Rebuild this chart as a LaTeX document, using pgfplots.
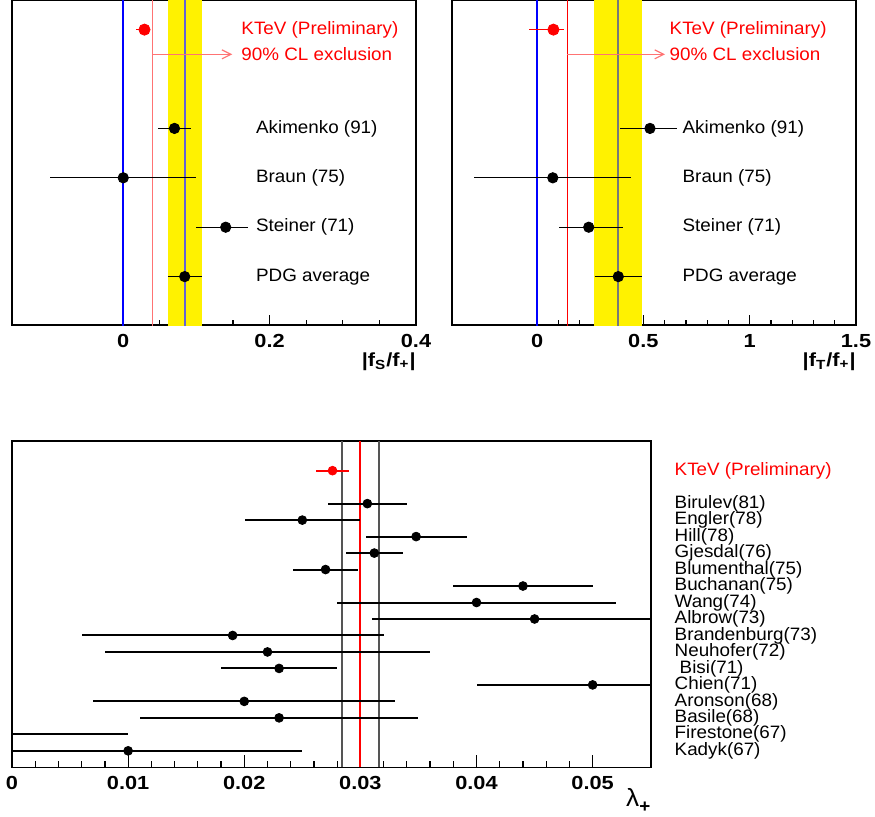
\documentclass[border=0pt]{standalone}
\usepackage{fontspec}
\setmainfont{Liberation Sans}[FakeStretch=1.05]
\newfontfamily\tickfont{Liberation Sans}[FakeStretch=1.15]
\usepackage{pgfplots}
\pgfplotsset{compat=1.18}
\usetikzlibrary{arrows.meta}

\definecolor{pdgblue}{RGB}{100,100,210}
\definecolor{lightred}{RGB}{255,115,115}
\definecolor{midred}{RGB}{255,0,0}
\definecolor{kred}{RGB}{255,0,0}
\definecolor{pdggrey}{RGB}{120,120,120}
\definecolor{dkgrey}{RGB}{85,85,85}

\pgfplotsset{
  panel/.style={
    scale only axis,
    clip mode=individual,
    axis line style={line width=0.8bp, black},
    tick align=inside,
    xtick pos=left,
    major tick length=5bp,
    minor tick length=2.5bp,
    tick style={black, line width=0.6bp},
    scaled ticks=false,
    xticklabel style={font=\tickfont\bfseries\fontsize{9.5}{10}\selectfont, yshift=-1bp},
  },
  meas/.style={
    only marks, mark=*, mark size=2.5bp, black,
    mark options={fill=black, draw=black},
    error bars/x dir=both, error bars/x explicit, error bars/error mark=none,
    error bars/error bar style={line width=0.5bp, black},
  },
}
\tikzset{lab/.style={font=\fontsize{9}{10}\selectfont, anchor=west, inner sep=0pt}}

\begin{document}
\begin{tikzpicture}

% ---------------- top left: |fS/f+|
\begin{axis}[panel,
  at={(6bp,0bp)}, anchor=north west,
  width=202bp, height=162.5bp,
  xmin=-0.152, xmax=0.4, ymin=0.02, ymax=6.6,
  xtick={0,0.2,0.4}, xticklabels={0,0.2,0.4},
  minor x tick num=3, ytick=\empty,
]
\addplot[fill=yellow, draw=none] coordinates {(0.061,0) (0.107,0) (0.107,7) (0.061,7)} -- cycle;
\addplot[blue, line width=1bp] coordinates {(0,0) (0,7)};
\addplot[lightred, line width=0.6bp] coordinates {(0.04,0) (0.04,7)};
\addplot[pdgblue, line width=0.8bp] coordinates {(0.084,0) (0.084,7)};
\addplot[lightred, line width=0.6bp, -{Straight Barb[length=4.5bp,width=4.5bp]}] coordinates {(0.04,5.5) (0.149,5.5)};
\addplot[meas, mark size=2.6bp] table[x=x, y=y, x error minus=em, x error plus=ep] {
x      y  em     ep
0.070  4  0.023  0.023
0.000  3  0.100  0.100
0.140  2  0.040  0.030
0.084  1  0.023  0.023
};
\addplot[meas, kred, mark options={fill=kred, draw=kred}, mark size=2.8bp,
  error bars/error bar style={kred, line width=0.5bp}]
  table[x=x, y=y, x error minus=em, x error plus=ep] {
x      y  em     ep
0.029  6  0.012  0.008
};
\node[lab, text=kred] at (axis cs:0.161,6) {KTeV (Preliminary)};
\node[lab, text=kred] at (axis cs:0.161,5.5) {90\% CL exclusion};
\node[lab] at (axis cs:0.181,4) {Akimenko (91)};
\node[lab] at (axis cs:0.181,3) {Braun (75)};
\node[lab] at (axis cs:0.181,2) {Steiner (71)};
\node[lab] at (axis cs:0.181,1) {PDG average};
\node[anchor=north east, inner sep=0pt, font=\tickfont\bfseries\fontsize{9.5}{10}\selectfont]
  at (rel axis cs:1,0) [yshift=-13.5bp] {|f\textsubscript{S}/f\textsubscript{+}|};
\end{axis}

% ---------------- top right: |fT/f+|
\begin{axis}[panel,
  at={(226bp,0bp)}, anchor=north west,
  width=202bp, height=162.5bp,
  xmin=-0.4, xmax=1.5, ymin=0.02, ymax=6.6,
  xtick={0,0.5,1,1.5}, xticklabels={0,0.5,1,1.5},
  minor x tick num=4, ytick=\empty,
]
\addplot[fill=yellow, draw=none] coordinates {(0.268,0) (0.492,0) (0.492,7) (0.268,7)} -- cycle;
\addplot[blue, line width=1bp] coordinates {(0,0) (0,7)};
\addplot[midred, line width=0.8bp] coordinates {(0.143,0) (0.143,7)};
\addplot[pdggrey, line width=1bp] coordinates {(0.382,0) (0.382,7)};
\addplot[lightred, line width=0.6bp, -{Straight Barb[length=4.5bp,width=4.5bp]}] coordinates {(0.143,5.5) (0.602,5.5)};
\addplot[meas, mark size=2.6bp] table[x=x, y=y, x error minus=em, x error plus=ep] {
x      y  em     ep
0.531  4  0.139  0.126
0.074  3  0.372  0.366
0.243  2  0.140  0.160
0.382  1  0.109  0.110
};
\addplot[meas, kred, mark options={fill=kred, draw=kred}, mark size=2.8bp,
  error bars/error bar style={kred, line width=0.5bp}]
  table[x=x, y=y, x error minus=em, x error plus=ep] {
x      y  em     ep
0.077  6  0.117  0.051
};
\node[lab, text=kred] at (axis cs:0.622,6) {KTeV (Preliminary)};
\node[lab, text=kred] at (axis cs:0.622,5.5) {90\% CL exclusion};
\node[lab] at (axis cs:0.683,4) {Akimenko (91)};
\node[lab] at (axis cs:0.683,3) {Braun (75)};
\node[lab] at (axis cs:0.683,2) {Steiner (71)};
\node[lab] at (axis cs:0.683,1) {PDG average};
\node[anchor=north east, inner sep=0pt, font=\tickfont\bfseries\fontsize{9.5}{10}\selectfont]
  at (rel axis cs:1,0) [yshift=-13.5bp] {|f\textsubscript{T}/f\textsubscript{+}|};
\end{axis}

% ---------------- bottom: lambda+
\begin{axis}[panel,
  at={(6bp,-220.5bp)}, anchor=north west,
  width=319.35bp, height=163.15bp,
  xmin=0, xmax=0.055, ymin=0, ymax=19.8,
  major tick length=6bp, minor tick length=3bp,
  xtick={0,0.01,0.02,0.03,0.04,0.05},
  xticklabels={0,0.01,0.02,0.03,0.04,0.05},
  minor x tick num=4,
  ytick={1,2,3,4,5,6,7,8,9,10,11,12,13,14,15,16,18},
  yticklabels={Kadyk(67),Firestone(67),Basile(68),Aronson(68),Chien(71),\hspace{2.5bp}Bisi(71),Neuhofer(72),Brandenburg(73),Albrow(73),Wang(74),Buchanan(75),Blumenthal(75),Gjesdal(76),Hill(78),Engler(78),Birulev(81),\textcolor{kred}{KTeV (Preliminary)}},
  yticklabel pos=right,
  ytick style={draw=none},
  yticklabel style={font=\fontsize{9}{10}\selectfont, anchor=west, inner sep=0pt, xshift=11.8bp},
]
\addplot[dkgrey, line width=0.75bp] coordinates {(0.0284,0) (0.0284,20)};
\addplot[dkgrey, line width=0.75bp] coordinates {(0.0316,0) (0.0316,20)};
\addplot[kred, line width=1bp] coordinates {(0.0300,0) (0.0300,20)};
\addplot[black, line width=1bp] coordinates {(-0.01,2) (0.01,2)};
\addplot[meas, mark size=2.2bp, error bars/error bar style={black, line width=1bp}]
  table[x=x, y=y, x error minus=em, x error plus=ep] {
x       y   em      ep
0.0306  16  0.0034  0.0034
0.0250  15  0.0049  0.0050
0.0348  14  0.0043  0.0044
0.0312  13  0.0024  0.0025
0.0270  12  0.0028  0.0028
0.0440  11  0.0060  0.0060
0.0400  10  0.0120  0.0120
0.0450  9   0.0140  0.0140
0.0190  8   0.0130  0.0130
0.0220  7   0.0140  0.0140
0.0230  6   0.0050  0.0050
0.0500  5   0.0100  0.0100
0.0200  4   0.0130  0.0130
0.0230  3   0.0120  0.0120
0.0100  1   0.0150  0.0150
};
\addplot[meas, kred, mark options={fill=kred, draw=kred}, mark size=2.2bp,
  error bars/error bar style={kred, line width=1bp}]
  table[x=x, y=y, x error minus=em, x error plus=ep] {
x       y   em      ep
0.0276  18  0.0014  0.0014
};
\node[anchor=north east, inner sep=0pt]
  at (rel axis cs:1,0) [yshift=-10.5bp]
  {{\fontsize{12.5}{13}\selectfont λ}\raisebox{-3bp}{\bfseries\fontsize{9}{9}\selectfont +}};
\end{axis}

\pgfresetboundingbox
\path[use as bounding box] (0,0) rectangle (437.5bp,-408.5bp);
\end{tikzpicture}
\end{document}
